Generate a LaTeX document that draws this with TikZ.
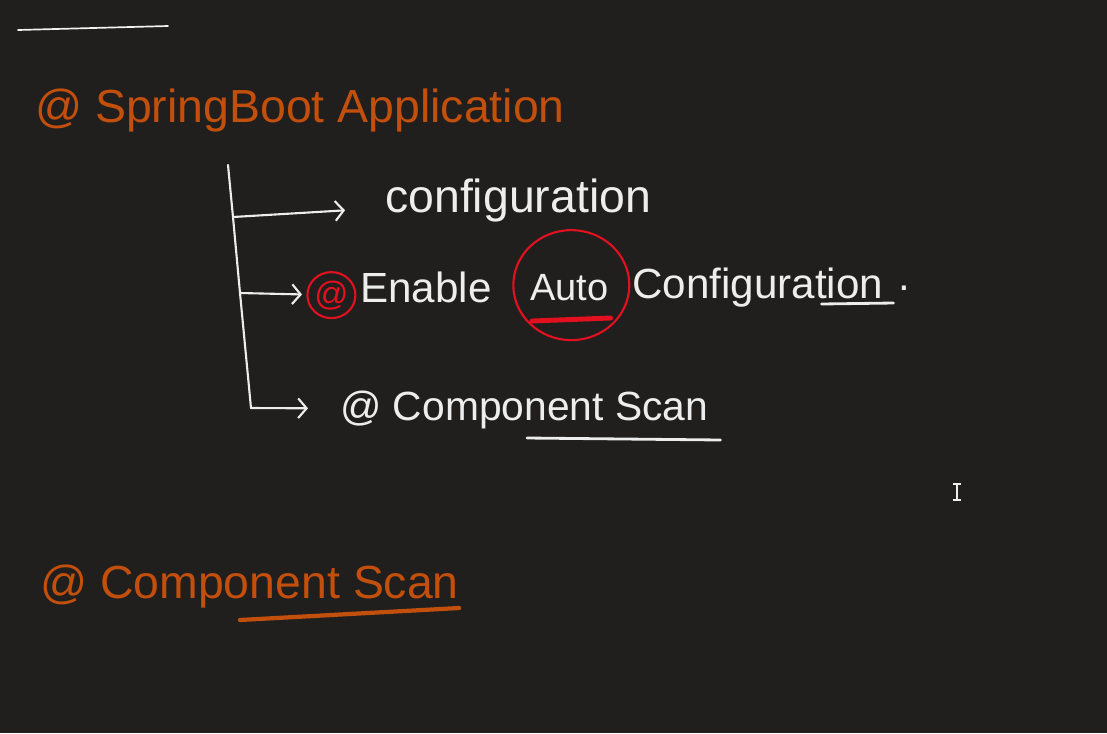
\documentclass[tikz,border=0pt]{standalone}
\usepackage{fontspec}
\setmainfont{Liberation Sans}
\usetikzlibrary{arrows.meta,positioning,calc}
\definecolor{board}{HTML}{201F1E}
\definecolor{chalk}{HTML}{EDEDED}
\definecolor{inkorange}{HTML}{C24F0C}
\definecolor{inkred}{HTML}{E3101F}

\begin{document}
\begin{tikzpicture}[x=0.025cm, y=-0.025cm,
    hand/.style={inner sep=0pt, anchor=base west, text=chalk, font=\fontsize{30}{34}\selectfont},
    heading/.style={hand, text=inkorange, font=\fontsize{33}{38}\selectfont},
    stroke/.style={draw=chalk, line width=1.5pt, line cap=round, line join=round},
    branch/.style={stroke, -{Straight Barb[length=6pt, width=14pt, line width=1.5pt]}},
    redring/.style={draw=inkred, line width=1.5pt},
    underline/.style={line width=2pt, line cap=round}
]
\fill[board] (0,0) rectangle (1107,733);
\useasboundingbox (0,0) rectangle (1107,733);

% short rule at the top
\coordinate (rulea) at (18,30);
\coordinate (ruleb) at (168,26);
\draw[draw=chalk!75, line width=1.2pt, line cap=round] (rulea) -- (ruleb);

\node[heading] (app) at (35,122) {@ SpringBoot Application};

% tree
\coordinate (top) at (228,165);
\coordinate (b1) at (233,217);
\coordinate (b2) at (240,293);
\coordinate (corner) at (251,408);
\draw[stroke] (top) -- (b1) -- (b2) -- (corner);

\node[hand, font=\fontsize{33}{38}\selectfont] (cfg) at (385,212) {configuration};

\node[hand, text=inkred, font=\fontsize{24}{28}\selectfont] (at) at (314,305) {@};
\node[hand] (enable) at (360,302) {Enable};
\node[hand, font=\fontsize{27}{30}\selectfont] (auto) at (530,300) {Auto};
\node[hand] (conf) at (632,298) {Configuration};
\node[hand] (dot) at (898,290) {.};

\node[hand, font=\fontsize{29}{33}\selectfont] (scan) at (340,420) {@ Component Scan};

\node[heading] (scantitle) at (40,598) {@ Component Scan};

% branches
\draw[branch, shorten >=1cm] (b1) -- (cfg);
\draw[branch, shorten >=3mm] (b2) -- (at);
\draw[branch, shorten >=8mm] (corner) -- (scan);

% marks
\draw[redring] (at.center) ellipse [x radius=24, y radius=23];
\draw[redring] ($(auto.center)+(2,-2)$) ellipse [x radius=58, y radius=55];
\draw[underline, draw=inkred, line width=3.5pt] ($(auto.base west)+(2,21)$) -- ($(auto.base east)+(2,18)$);
\draw[underline, draw=chalk] ($(conf.base east)+(-62,6)$) -- ($(conf.base east)+(10,5)$);
\draw[underline, draw=chalk] ($(scan.base west)+(187,18)$) -- ($(scan.base east)+(12,20)$);
\draw[underline, draw=inkorange, line width=3pt] ($(scantitle.base west)+(200,22)$) -- ($(scantitle.base east)+(0,10)$);

% text cursor
\coordinate (cur) at (957,492);
\draw[draw=chalk, line width=1pt] ($(cur)+(-4,-8)$) -- ($(cur)+(4,-8)$)
  ($(cur)+(0,-8)$) -- ($(cur)+(0,8)$) ($(cur)+(-4,8)$) -- ($(cur)+(4,8)$);
\end{tikzpicture}
\end{document}
